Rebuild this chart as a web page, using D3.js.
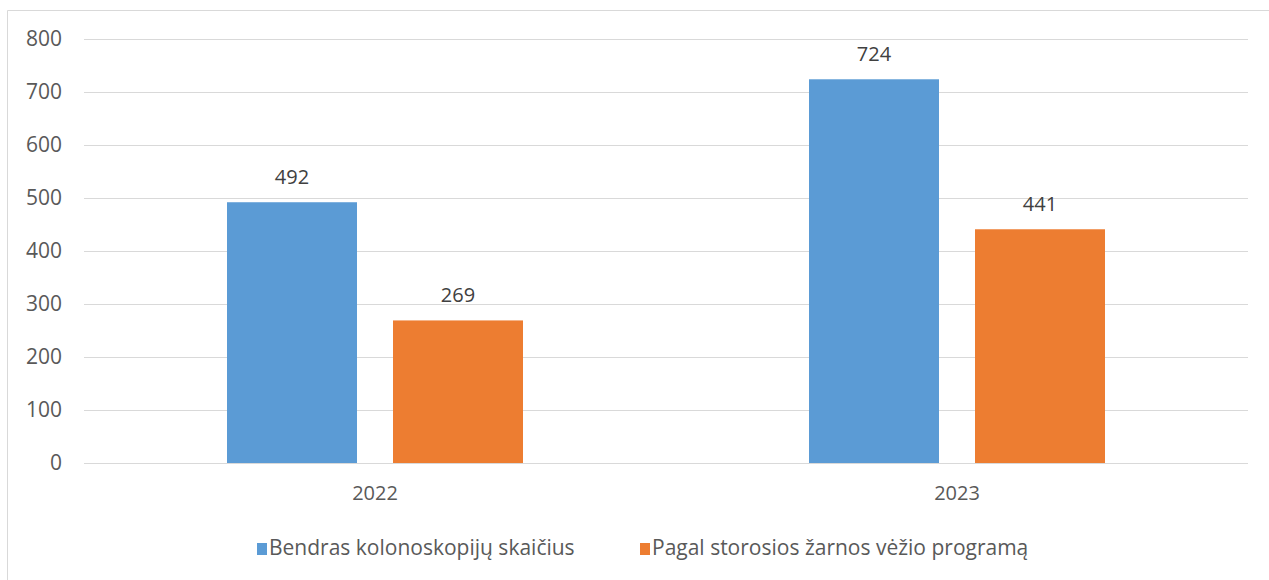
<!DOCTYPE html>
<html>
<head>
<meta charset="utf-8">
<script src="https://cdn.jsdelivr.net/npm/d3@7"></script>
<style>
  body { margin: 0; background: #fff; }
  text { font-family: "Open Sans", "Noto Sans", sans-serif; }
</style>
</head>
<body>
<div id="chart"></div>
<script>
// data
var years = ["2022", "2023"];
var seriesNames = ["Bendras kolonoskopijų skaičius", "Pagal storosios žarnos vėžio programą"];
var totalValues = [492, 724];
var programValues = [269, 441];
var yTicks = [0, 100, 200, 300, 400, 500, 600, 700, 800];
var colors = ["#5B9BD5", "#ED7D31"];

var W = 1269, H = 580;
var margin = {top: 39, right: 21, bottom: 117, left: 84};
var width = W - margin.left - margin.right,
    height = H - margin.top - margin.bottom;

var svg = d3.select("#chart").append("svg")
  .attr("width", W)
  .attr("height", H);

// chart frame
svg.append("path")
  .attr("d", "M7.5,580 L7.5,10.5 L1269,10.5")
  .attr("fill", "none")
  .attr("stroke", "#d9d9d9")
  .attr("stroke-width", 1);

var g = svg.append("g")
  .attr("transform", "translate(" + margin.left + "," + margin.top + ")");

var x0 = d3.scaleBand()
  .domain(years)
  .range([0, width]);

// two bars of 130px with a 36px gap, centered in each year band
var x1 = d3.scaleBand()
  .domain([0, 1])
  .range([143, 143 + 296])
  .paddingInner(36 / 166);

var y = d3.scaleLinear()
  .domain([0, 800])
  .range([height, 0]);

// gridlines
g.append("g")
  .selectAll("line")
  .data(yTicks)
  .enter().append("line")
  .attr("x1", 0)
  .attr("x2", width)
  .attr("y1", function(d) { return Math.round(y(d)) + 0.5; })
  .attr("y2", function(d) { return Math.round(y(d)) + 0.5; })
  .attr("stroke", "#d9d9d9")
  .attr("stroke-width", 1);

// y axis labels
var yAxis = g.append("g")
  .call(d3.axisLeft(y).tickValues(yTicks).tickSize(0).tickPadding(22));
yAxis.select(".domain").remove();
yAxis.selectAll("text")
  .attr("fill", "#595959")
  .style("font-size", "21px");

// x axis labels
var xAxis = g.append("g")
  .attr("transform", "translate(0," + height + ")")
  .call(d3.axisBottom(x0).tickSize(0).tickPadding(23));
xAxis.select(".domain").remove();
xAxis.selectAll("text")
  .attr("fill", "#595959")
  .style("font-size", "20px");

var rows = years.map(function(yr, i) {
  return {year: yr, vals: [totalValues[i], programValues[i]]};
});

var groups = g.selectAll(".grp")
  .data(rows)
  .enter().append("g")
  .attr("class", "grp")
  .attr("transform", function(d) { return "translate(" + x0(d.year) + ",0)"; });

groups.selectAll("rect")
  .data(function(d) { return d.vals; })
  .enter().append("rect")
  .attr("x", function(d, i) { return x1(i); })
  .attr("width", x1.bandwidth())
  .attr("y", function(d) { return y(d); })
  .attr("height", function(d) { return height - y(d); })
  .attr("fill", function(d, i) { return colors[i]; });

groups.selectAll(".lbl")
  .data(function(d) { return d.vals; })
  .enter().append("text")
  .attr("class", "lbl")
  .attr("x", function(d, i) { return x1(i) + x1.bandwidth() / 2; })
  .attr("y", function(d) { return y(d) - 18; })
  .attr("text-anchor", "middle")
  .attr("fill", "#404040")
  .style("font-size", "20px")
  .text(function(d) { return d; });

// legend
var legendX = [257, 640];
var legend = svg.selectAll(".leg")
  .data(seriesNames)
  .enter().append("g")
  .attr("class", "leg")
  .attr("transform", function(d, i) { return "translate(" + legendX[i] + ",555)"; });

legend.append("rect")
  .attr("x", 0)
  .attr("y", -12)
  .attr("width", 10)
  .attr("height", 12)
  .attr("fill", function(d, i) { return colors[i]; });

legend.append("text")
  .attr("x", 12)
  .attr("y", 0)
  .attr("fill", "#595959")
  .style("font-size", "21px")
  .text(function(d) { return d; });
</script>
</body>
</html>
